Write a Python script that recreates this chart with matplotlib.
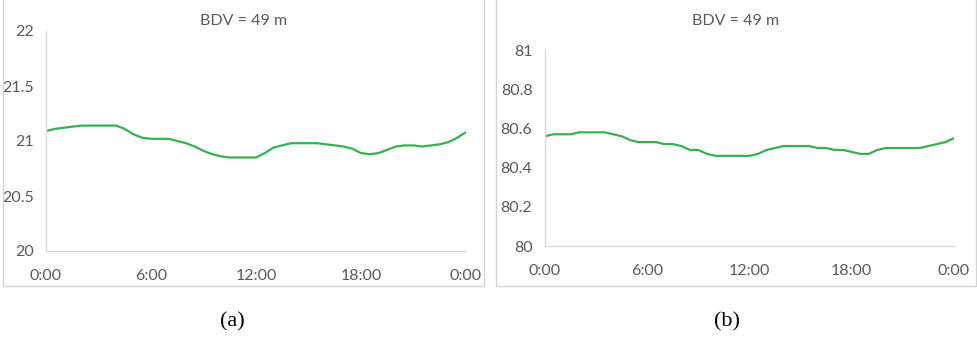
import matplotlib.pyplot as plt
import numpy as np
from matplotlib.patches import Rectangle

# half-hourly readings over one day
hours = np.arange(0, 24.5, 0.5)
series_a = [21.09, 21.11, 21.12, 21.13, 21.14, 21.14, 21.14, 21.14, 21.14, 21.11,
            21.06, 21.03, 21.02, 21.02, 21.02, 21.00, 20.98, 20.95, 20.91, 20.88,
            20.86, 20.85, 20.85, 20.85, 20.85, 20.89, 20.94, 20.96, 20.98, 20.98,
            20.98, 20.98, 20.97, 20.96, 20.95, 20.93, 20.89, 20.88, 20.89, 20.92,
            20.95, 20.96, 20.96, 20.95, 20.96, 20.97, 20.99, 21.03, 21.08]
series_b = [80.56, 80.57, 80.57, 80.57, 80.58, 80.58, 80.58, 80.58, 80.57, 80.56,
            80.54, 80.53, 80.53, 80.53, 80.52, 80.52, 80.51, 80.49, 80.49, 80.47,
            80.46, 80.46, 80.46, 80.46, 80.46, 80.47, 80.49, 80.50, 80.51, 80.51,
            80.51, 80.51, 80.50, 80.50, 80.49, 80.49, 80.48, 80.47, 80.47, 80.49,
            80.50, 80.50, 80.50, 80.50, 80.50, 80.51, 80.52, 80.53, 80.55]

x_ticks = [0, 6, 12, 18, 24]
x_labels = ["0:00", "6:00", "12:00", "18:00", "0:00"]
yticks_a = [20, 20.5, 21, 21.5, 22]
ylabels_a = ["20", "20.5", "21", "21.5", "22"]
yticks_b = [80, 80.2, 80.4, 80.6, 80.8, 81]
ylabels_b = ["80", "80.2", "80.4", "80.6", "80.8", "81"]
title = "BDV = 49 m"
panel_tags = ["(a)", "(b)"]

W, H = 978, 338
fig = plt.figure(figsize=(W / 100, H / 100), dpi=100)
font = ["Lato", "DejaVu Sans"]
grey = "#595959"
green = "#33b350"


def px_axes(x0, y0, x1, y1):
    return fig.add_axes([x0 / W, 1 - y1 / H, (x1 - x0) / W, (y1 - y0) / H])


# panel frames
for x0, x1 in [(3, 484), (496, 976)]:
    fig.patches.append(Rectangle((x0 / W, 1 - 286 / H), (x1 - x0) / W, 286 / H + 0.01,
                                 transform=fig.transFigure, fill=False,
                                 edgecolor="#d4d4d4", linewidth=1.0))

panels = [
    (px_axes(46, 31, 466, 251), series_a, yticks_a, ylabels_a, 243.5),
    (px_axes(545, 50, 954, 246), series_b, yticks_b, ylabels_b, 735.5),
]

for ax, ys, yt, yl, title_x in panels:
    ax.plot(hours, ys, color=green, linewidth=1.6)
    ax.set_xlim(0, 24)
    ax.set_ylim(yt[0], yt[-1])
    ax.set_xticks(x_ticks)
    ax.set_xticklabels(x_labels)
    ax.set_yticks(yt)
    ax.set_yticklabels(yl)
    ax.tick_params(length=0, colors=grey, labelsize=11.5)
    ax.tick_params(axis="y", pad=9)
    ax.tick_params(axis="x", pad=13)
    for lab in ax.get_xticklabels() + ax.get_yticklabels():
        lab.set_family(font)
    for side in ["top", "right"]:
        ax.spines[side].set_visible(False)
    for side in ["left", "bottom"]:
        ax.spines[side].set_color("#d9d9d9")
        ax.spines[side].set_linewidth(1.0)
    ax.patch.set_alpha(0)
    fig.text(title_x / W, 1 - 21 / H, title, ha="center", va="center",
             fontsize=11.5, color=grey, family=font)

for tag, tag_x in zip(panel_tags, [232, 727]):
    fig.text(tag_x / W, 1 - 322 / H, tag, ha="center", va="center",
             fontsize=16, color="black", family="Liberation Serif")

fig.savefig("out.png", dpi=100)
